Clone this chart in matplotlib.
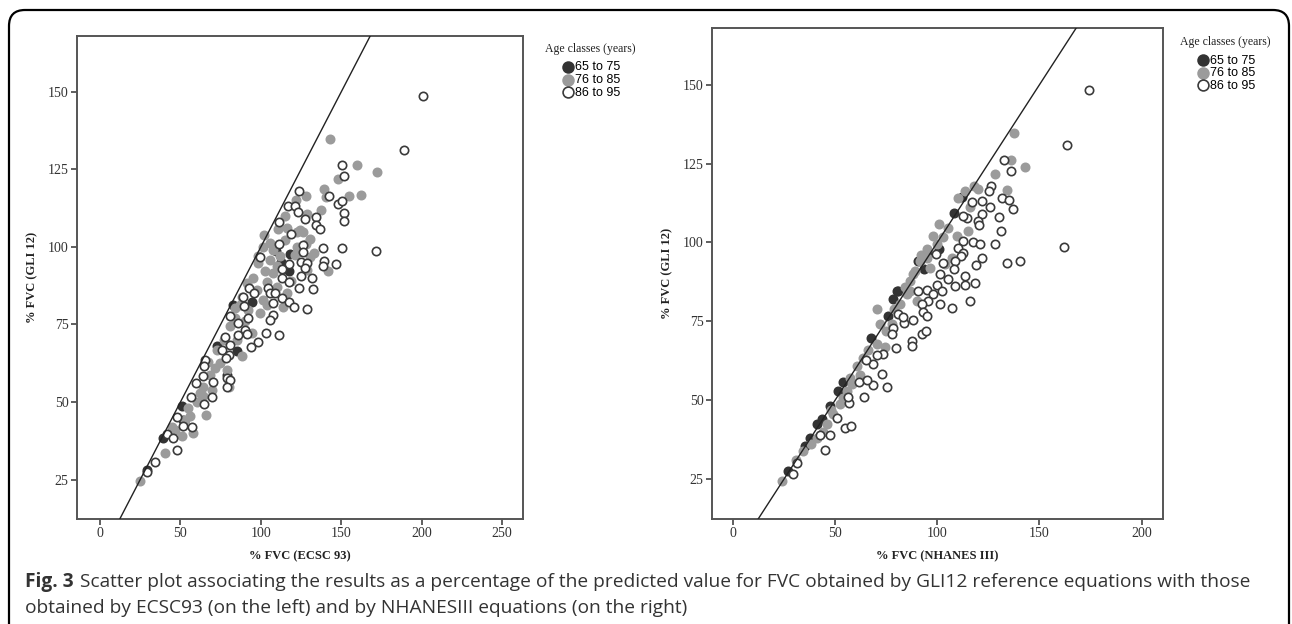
import matplotlib
matplotlib.use("Agg")
import matplotlib.pyplot as plt
from matplotlib.patches import FancyBboxPatch
import numpy as np

# %FVC values (GLI12 on y, ECSC93 / NHANESIII on x)
ecsc_dark_x = [109.2, 118.2, 112.4, 117.5, 94.3, 82.9, 72.6, 85, 78.8, 50.8, 51.8, 39.4, 29]
ecsc_dark_y = [98.7, 97.7, 95.3, 92.1, 82.4, 81.3, 68, 66.4, 58.8, 48.6, 44.3, 38.4, 28.2]

ecsc_gray_x = [143, 148, 160, 172, 128, 139.5, 140.3, 154.6, 162, 137.3, 121.7, 114.8, 128.5,
               110.9, 122.3, 126.4, 130.6, 105.7, 101.6, 107.8, 122.3, 121.4, 98.5, 142, 102.6,
               107.8, 91.2, 97.4, 103.7, 109.8, 116, 101.6, 114, 87.1, 105.7, 109.8, 123.4, 130.6,
               128.5, 115, 124.4, 116.1, 83.9, 92.2, 99.5, 103.7, 80.8, 85, 94.3, 72.6, 74.6, 71.5,
               78.8, 68.4, 64.3, 69.5, 62.2, 65.9, 52.9, 56, 46.6, 50.8, 40.4, 24.9, 64.3,
               88, 95, 112, 119, 84, 77, 90, 60, 55, 58, 45, 67, 88, 80, 102, 98, 133, 128]
ecsc_gray_y = [134.8, 121.9, 126.4, 124.2, 116.5, 118.6, 116.2, 116.5, 116.8, 112, 115.1, 109.9, 110.6,
               105.7, 104.7, 104.9, 102.5, 101.2, 100.1, 99, 100.1, 97.4, 94.7, 92.4, 92.4,
               91.5, 88.3, 86.2, 88.8, 87.2, 85.1, 83, 80.8, 81.3, 95.8, 93.7, 98.5, 96.9,
               92.6, 102.3, 105.5, 106, 80.3, 79.7, 78.7, 81.3, 74.4, 70.1, 72.2, 66.9, 62.6, 61,
               60.4, 58.8, 55, 54, 52.9, 45.9, 44.3, 45.4, 41.1, 39, 33.6, 24.5, 51.8,
               84, 90, 97, 89, 77, 70, 76, 50, 48, 40, 42, 63, 65, 55, 104, 97, 98, 101]

ecsc_open_x = [201, 189, 150.3, 152, 123.8, 142.6, 148.2, 150.7, 152, 152, 116.9, 121.5, 123,
               111.3, 127.3, 134.3, 134, 136.8, 119, 138.4, 150.3, 171.8, 111.1, 126.4, 126.2,
               99.5, 117.4, 125.2, 128.5, 139, 138.9, 146.8, 127.5, 124.8, 132, 113, 113, 117.7,
               124, 132.5, 92.9, 95.8, 89.1, 104.7, 105.7, 109, 113, 107.8, 117.7, 120.6, 128.7,
               89.6, 80.8, 86, 92.2, 90.2, 91.2, 85.6, 77.7, 80.8, 75.7, 80.2, 78.4, 65.3, 64.9,
               70.5, 64.3, 59.7, 79.2, 80.8, 79.2, 69.8, 56.4, 64.7, 47.7, 51.8, 57, 41.5, 45.6,
               47.7, 34.2, 29, 103.1, 111.5, 98.5, 93.9, 107.8, 105.7]
ecsc_open_y = [148.6, 131.3, 126.3, 122.8, 118.1, 116.5, 113.8, 114.7, 111, 108.4, 113.1, 113.3, 111.3,
               108, 108.9, 109.7, 107.2, 105.9, 104.1, 99.8, 99.8, 98.7, 100.9, 100.7, 98.3,
               96.8, 94.4, 95, 94.7, 95.5, 94, 94.5, 93.2, 90.7, 89.9, 92.8, 89.9, 88.7,
               86.9, 86.5, 86.7, 85.1, 83.8, 86.7, 85.1, 85.1, 83.7, 81.9, 82.3, 80.8, 80,
               81, 77.6, 75.5, 77.1, 73.1, 72, 71.5, 71.1, 68.5, 66.9, 65.1, 64.2, 63.4, 61.5,
               56.6, 58.5, 56.1, 57.7, 57.2, 54.8, 51.6, 51.6, 49.5, 45.2, 42.2, 42, 39.7, 38.4,
               34.4, 30.7, 27.3, 72.2, 71.7, 69.2, 67.7, 78.1, 76.3]

nhanes_dark_x = [112.2, 108.3, 94.8, 90.4, 93.6, 80.6, 78.5, 80.1, 76, 67.5, 54, 51.6, 47.5,
                 43.4, 40.9, 37.7, 35.2, 27.1, 100.8]
nhanes_dark_y = [114.5, 109.2, 97.1, 94.2, 91.5, 84.6, 82, 84.6, 76.7, 69.8, 55.6, 52.9, 48.2,
                 43.9, 42.3, 38.1, 35.5, 27.5, 98]

nhanes_gray_x = [137.7, 135.9, 142.9, 128.2, 118, 113.6, 134.3, 116, 115.2, 109.5, 105.4, 103, 99.7,
                 94.8, 91.5, 89.1, 86.6, 85, 96.4, 88.3, 86.6, 89.9, 103.8, 107, 81.7, 77.7, 72,
                 70.3, 63.8, 60.5, 57.3, 54, 52.4, 49.1, 45.9, 40.9, 34.4, 23.8, 70.3, 74.4, 55.7,
                 98, 101, 95, 92, 84, 79, 75, 66, 62, 58, 48, 44, 38, 31, 120, 110]
nhanes_gray_y = [134.6, 126.2, 123.8, 121.7, 118, 116.4, 116.6, 111.1, 103.7, 102.1, 104.7, 101.6, 99.5,
                 95.2, 94.2, 91, 87.8, 83.6, 92, 89.9, 84.6, 81.5, 93.1, 95.2, 80.4, 74.1, 74.1,
                 67.7, 63.5, 60.8, 57.1, 50.8, 48.7, 45.5, 42.3, 38.1, 33.9, 24.4, 78.8, 66.7, 52.9,
                 102, 106, 98, 96, 86, 79, 72, 66, 58, 55, 47, 40, 36, 31, 117, 114]

nhanes_open_x = [174.4, 163.5, 132.6, 136.2, 126.4, 125.5, 116.8, 121.7, 131.5, 135.1, 136.9, 125.8,
                 122, 120.1, 120.4, 114.4, 112.7, 130.4, 131, 128.1, 117.6, 120.9, 112.4, 110,
                 112.7, 111.4, 161.9, 134, 140.5, 122, 118.8, 99.2, 103, 108.7, 108.2, 113.6,
                 105.4, 108.7, 118.5, 113.6, 101.3, 99.7, 90.7, 94.8, 98, 102.2, 116, 101.3, 107,
                 95.6, 92.4, 93.2, 94.8, 88.3, 92.4, 94.5, 87.5, 87.8, 79.8, 73.6, 68.7, 65.1,
                 70.6, 72.8, 75.2, 68.7, 64.3, 61.7, 65.4, 56.9, 56.5, 50.8, 54.8, 57.6, 47.5,
                 42.6, 44.9, 31.2, 29.5, 80.9, 83.7, 78.5, 77.7, 83.4]
nhanes_open_y = [148.3, 130.9, 126.1, 122.5, 117.8, 116.4, 112.9, 113, 114.2, 113.4, 110.6, 111.1,
                 109, 106.9, 105.6, 107.9, 108.5, 108.1, 103.7, 99.6, 100.2, 99.5, 100.5, 98.1,
                 96.8, 95.7, 98.4, 93.6, 94.2, 95.2, 93, 96.3, 93.6, 94.2, 91.5, 89.4,
                 88.4, 86.2, 87, 86.5, 89.9, 86.5, 84.6, 84.9, 83.6, 84.6, 81.5, 80.6, 79.3,
                 81.5, 80.4, 77.8, 76.7, 75.3, 71.1, 72, 68.8, 67.2, 66.5, 64.6, 61.6, 62.7,
                 64.3, 58.2, 54, 54.7, 51, 55.9, 56.3, 49.2, 51, 44.4, 41.3, 41.8, 39,
                 39, 34.1, 29.9, 26.7, 77.3, 74.6, 73, 70.9, 76.2]

age_labels = ["65 to 75", "76 to 85", "86 to 95"]
x_titles = ["% FVC (ECSC 93)", "% FVC (NHANES III)"]

serif = "Liberation Serif"
W, H = 1292, 624
fig = plt.figure(figsize=(W / 100, H / 100), dpi=100)
fig.patch.set_facecolor("white")

# rounded frame of the figure
frame = FancyBboxPatch((9, -30), 1280, 644, boxstyle="round,pad=0,rounding_size=16",
                       transform=None, fill=False, edgecolor="black", linewidth=1.6)
fig.patches.append(frame)

ax1 = fig.add_axes([77 / W, 1 - 519 / H, 446 / W, 483 / H])
ax2 = fig.add_axes([712 / W, 1 - 519 / H, 451 / W, 491 / H])

panels = [
    (ax1, [(ecsc_dark_x, ecsc_dark_y), (ecsc_gray_x, ecsc_gray_y), (ecsc_open_x, ecsc_open_y)],
     (-14.3, 263), [0, 50, 100, 150, 200, 250], 545, 563, 49, 61.5),
    (ax2, [(nhanes_dark_x, nhanes_dark_y), (nhanes_gray_x, nhanes_gray_y), (nhanes_open_x, nhanes_open_y)],
     (-10.3, 210.5), [0, 50, 100, 150, 200], 1180, 1198, 42, 54.5),
]
styles = [dict(c="#333333", edgecolors="#333333"),
          dict(c="#9b9b9b", edgecolors="#9b9b9b"),
          dict(c="white", edgecolors="#3a3a3a")]

for i, (ax, series, xlim, xt, tx, lx, ty, ly) in enumerate(panels):
    handles = []
    for (xs, ys), st, lab, z in zip(series, styles, age_labels, [3, 4, 5]):
        h = ax.scatter(xs, ys, s=36, linewidths=1.2, zorder=z, label=lab, **st)
        handles.append(h)
    ax.set_xlim(*xlim)
    ax.set_ylim(12.3, 168)
    lim = np.array([0, 300])
    ax.plot(lim, lim, color="#222222", lw=1.0, zorder=6)
    ax.set_xticks(xt)
    ax.set_yticks([25, 50, 75, 100, 125, 150])
    ax.tick_params(direction="out", length=4, width=1.2, color="#444444", labelsize=10, pad=2)
    for lbl in ax.get_xticklabels() + ax.get_yticklabels():
        lbl.set_fontfamily(serif)
        lbl.set_color("#333333")
    for sp in ax.spines.values():
        sp.set_color("#555555")
        sp.set_linewidth(1.4)
    ax.set_xlabel(x_titles[i], fontfamily=serif, fontweight="bold", fontsize=9, labelpad=7,
                  color="#222222")
    ax.set_ylabel("% FVC (GLI 12)", fontfamily=serif, fontweight="bold", fontsize=9, labelpad=7,
                  color="#222222")

    fig.text(tx / W, 1 - ty / H, "Age classes (years)", fontfamily=serif, fontsize=8.5,
             va="center", ha="left", color="#222222")
    ax.legend(handles=handles, loc="upper left", bbox_to_anchor=(lx / W, 1 - ly / H),
              bbox_transform=fig.transFigure, frameon=False, borderpad=0, borderaxespad=0,
              handlelength=0.8, handletextpad=0.15, labelspacing=0.05, markerscale=1.3,
              prop={"family": "Liberation Sans", "size": 9})

# caption
cap_color = "#333333"
cap_font = "Open Sans"
cap_size = 13.8
t0 = fig.text(25 / W, 1 - 582 / H, "Fig. 3", fontfamily=cap_font, fontweight="bold",
              fontsize=cap_size, va="center", ha="left", color=cap_color)
fig.canvas.draw()
bb = t0.get_window_extent()
fig.text((bb.x1 + 6) / W, 1 - 582 / H,
         "Scatter plot associating the results as a percentage of the predicted value for FVC "
         "obtained by GLI12 reference equations with those",
         fontfamily=cap_font, fontsize=cap_size, va="center", ha="left", color=cap_color)
fig.text(25 / W, 1 - 608 / H,
         "obtained by ECSC93 (on the left) and by NHANESIII equations (on the right)",
         fontfamily=cap_font, fontsize=cap_size, va="center", ha="left", color=cap_color)

fig.savefig("out.png", dpi=100)
